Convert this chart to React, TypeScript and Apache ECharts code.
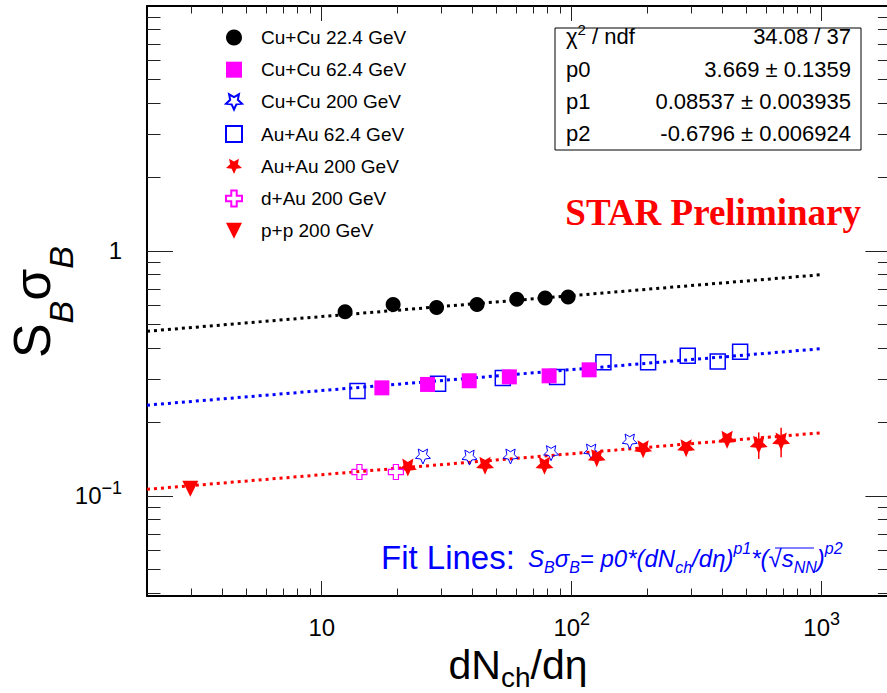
import { useEffect, useRef } from 'react';
import * as echarts from 'echarts';

// ---------------- data ----------------
const cuCu22X = [12.4, 19.3, 28.8, 41.8, 60.3, 78.3, 96.7];
const cuCu22Y = [0.565, 0.604, 0.587, 0.604, 0.635, 0.643, 0.649];

const cuCu62X = [17.4, 26.5, 38.9, 56.3, 81.2, 117.4];
const cuCu62Y = [0.276, 0.285, 0.295, 0.306, 0.309, 0.327];

const cuCu200X = [25.4, 39.0, 56.9, 82.7, 119.6, 170.6];
const cuCu200Y = [0.1447, 0.1433, 0.1447, 0.1494, 0.1516, 0.1666];

const auAu62X = [13.9, 29.2, 53.0, 87.4, 133.9, 202.1, 291.1, 383.7, 471.6];
const auAu62Y = [0.268, 0.287, 0.303, 0.306, 0.351, 0.351, 0.373, 0.354, 0.388];

const auAu200X = [22.1, 45.0, 77.8, 125.9, 193.0, 286.8, 418.4, 559.8, 688.0];
const auAu200Y = [0.1304, 0.1326, 0.1326, 0.1425, 0.155, 0.1565, 0.1693, 0.1615, 0.1666];
const auAu200Err = [0, 0, 0, 0, 0, 0, 0, 0.02, 0.023];

const dAu200X = [14.15, 19.8];
const dAu200Y = [0.1251, 0.1251];

const pp200X = [2.98];
const pp200Y = [0.1068];

const fitX = [2, 1000];
const fitCuCu22 = [0.47, 0.8];
const fitE62 = [0.2345, 0.399];
const fitE200 = [0.1063, 0.181];

const xMajorTicks = [10, 100, 1000];
const xMinorTicks = [3, 4, 5, 6, 7, 8, 9, 20, 30, 40, 50, 60, 70, 80, 90, 200, 300, 400, 500, 600, 700, 800, 900];
const yMajorTicks = [0.1, 1];
const yMinorTicks = [0.04, 0.05, 0.06, 0.07, 0.08, 0.09, 0.2, 0.3, 0.4, 0.5, 0.6, 0.7, 0.8, 0.9, 2, 3, 4, 5, 6, 7, 8, 9];

const legendNames = [
  'Cu+Cu 22.4 GeV',
  'Cu+Cu 62.4 GeV',
  'Cu+Cu 200 GeV',
  'Au+Au 62.4 GeV',
  'Au+Au 200 GeV',
  'd+Au 200 GeV',
  'p+p 200 GeV',
];

const statsValues = ['34.08 / 37', '3.669 ± 0.1359', '0.08537 ± 0.003935', '-0.6796 ± 0.006924'];
const statsParams = ['p0', 'p1', 'p2'];

// ---------------- styling ----------------
const X_MIN = 2, X_MAX = 1900, Y_MIN = 0.039, Y_MAX = 10;
const FONT = 'Liberation Sans, Arial, Helvetica, sans-serif';
const BLUE = '#0000ff';
const RED = '#ff0000';
const MAGENTA = '#ff00ff';

const STAR = 'path://M50,100L35.89,69.42L2.45,65.45L27.18,42.58L20.6,9.55L50,26L79.4,9.55L72.82,42.58L97.55,65.45L64.11,69.42Z';
const CROSS = 'path://M33,0H67V33H100V67H67V100H33V67H0V33H33Z';
const TRI_DOWN = 'path://M0,0L100,0L50,100Z';

const L = (v: number) => Math.log10(v);
const pairs = (xs: number[], ys: number[]) => xs.map((x, i) => [x, ys[i]]);

const axisRich = {
  b: { fontSize: 24, color: '#000', lineHeight: 24, fontFamily: FONT },
  s: { fontSize: 18, color: '#000', lineHeight: 24, padding: [0, 0, 16, 0], fontFamily: FONT },
};

const expText = (e: number) => (e < 0 ? '\u2212' + Math.abs(e) : String(e));

function decoX(position: 'top' | 'bottom', ticks: number[], len: number, line: boolean, labels: boolean) {
  return {
    type: 'value',
    min: L(X_MIN),
    max: L(X_MAX),
    position,
    axisLine: { show: line, onZero: false, lineStyle: { color: '#000', width: 2 } },
    axisTick: { show: true, inside: true, length: len, customValues: ticks.map(L), lineStyle: { color: '#222', width: 1 } },
    axisLabel: labels
      ? {
          show: true,
          customValues: xMajorTicks.map(L),
          margin: 19,
          lineHeight: 24,
          rich: axisRich,
          formatter: (v: number) => {
            const e = Math.round(v);
            return e === 1 ? '{b|10}' : `{b|10}{s|${expText(e)}}`;
          },
        }
      : { show: false },
    splitLine: { show: false },
  };
}

function decoY(position: 'left' | 'right', ticks: number[], len: number, line: boolean, labels: boolean) {
  return {
    type: 'value',
    min: L(Y_MIN),
    max: L(Y_MAX),
    position,
    axisLine: { show: line, onZero: false, lineStyle: { color: '#000', width: 2 } },
    axisTick: { show: true, inside: true, length: len, customValues: ticks.map(L), lineStyle: { color: '#222', width: 1 } },
    axisLabel: labels
      ? {
          show: true,
          customValues: yMajorTicks.map(L),
          margin: 25,
          lineHeight: 24,
          rich: axisRich,
          formatter: (v: number) => {
            const e = Math.round(v);
            return e === 0 ? '{b|1}' : `{b|10}{s|${expText(e)}}`;
          },
        }
      : { show: false },
    splitLine: { show: false },
  };
}

function fitLine(name: string, ys: number[], color: string) {
  return {
    type: 'line',
    name,
    data: pairs(fitX, ys),
    symbol: 'none',
    silent: true,
    z: 1,
    lineStyle: { color, width: 3, type: [3, 4], cap: 'butt' },
  };
}

function scatter(name: string, xs: number[], ys: number[], symbol: string, size: number, itemStyle: any, z = 3) {
  return { type: 'scatter', name, data: pairs(xs, ys), symbol, symbolSize: size, itemStyle: { opacity: 1, ...itemStyle }, z };
}

const gTextRich = (size: number) => ({
  n: { fontSize: size, fill: '#000', lineHeight: 30, fontFamily: FONT },
  s: { fontSize: 15, fill: '#000', lineHeight: 30, padding: [0, 0, 14, 0], fontFamily: FONT },
});

const STATS_ROWS = [36, 69, 101, 133];

const option: any = {
  animation: false,
  backgroundColor: '#fff',
  textStyle: { fontFamily: FONT },
  grid: { left: 147, top: 6, width: 744.4, height: 590, containLabel: false },
  xAxis: [
    { type: 'log', logBase: 10, min: X_MIN, max: X_MAX, show: false },
    decoX('bottom', xMajorTicks, 15, true, true),
    decoX('bottom', xMinorTicks, 7.5, false, false),
    decoX('top', xMajorTicks, 15, true, false),
    decoX('top', xMinorTicks, 7.5, false, false),
  ],
  yAxis: [
    { type: 'log', logBase: 10, min: Y_MIN, max: Y_MAX, show: false },
    decoY('left', yMajorTicks, 26, true, true),
    decoY('left', yMinorTicks, 13.5, false, false),
    decoY('right', yMajorTicks, 26, true, false),
    decoY('right', yMinorTicks, 13.5, false, false),
  ],
  legend: {
    orient: 'vertical',
    left: 220,
    top: 23,
    itemWidth: 16,
    itemHeight: 16,
    itemGap: 13.2,
    selectedMode: false,
    textStyle: { fontSize: 19, color: '#000', fontFamily: FONT, padding: [0, 0, 0, 14] },
    data: [
      { name: legendNames[0], icon: 'circle' },
      { name: legendNames[1], icon: 'rect' },
      { name: legendNames[2], icon: STAR },
      { name: legendNames[3], icon: 'rect' },
      { name: legendNames[4], icon: STAR },
      { name: legendNames[5], icon: CROSS },
      { name: legendNames[6], icon: TRI_DOWN },
    ],
  },
  series: [
    fitLine('fit 22.4', fitCuCu22, '#000'),
    fitLine('fit 62.4', fitE62, BLUE),
    fitLine('fit 200', fitE200, RED),
    {
      type: 'custom',
      name: 'Au+Au 200 errors',
      silent: true,
      z: 2,
      data: auAu200X
        .map((x, i) => [x, auAu200Y[i] - auAu200Err[i], auAu200Y[i] + auAu200Err[i], auAu200Err[i]])
        .filter((d) => d[3] > 0),
      encode: { x: 0, y: [1, 2] },
      renderItem: (_p: any, api: any) => {
        const a = api.coord([api.value(0), api.value(1)]);
        const b = api.coord([api.value(0), api.value(2)]);
        return {
          type: 'line',
          shape: { x1: a[0], y1: a[1], x2: b[0], y2: b[1] },
          style: { stroke: RED, lineWidth: 1.5 },
        };
      },
    },
    scatter(legendNames[3], auAu62X, auAu62Y, 'rect', 15, { color: 'transparent', borderColor: BLUE, borderWidth: 1.5 }),
    scatter(legendNames[0], cuCu22X, cuCu22Y, 'circle', 15, { color: '#000' }),
    scatter(legendNames[1], cuCu62X, cuCu62Y, 'rect', 15, { color: MAGENTA }),
    scatter(legendNames[2], cuCu200X, cuCu200Y, STAR, 15, { color: 'transparent', borderColor: BLUE, borderWidth: 1 }),
    scatter(legendNames[4], auAu200X, auAu200Y, STAR, 18, { color: RED }),
    scatter(legendNames[5], dAu200X, dAu200Y, CROSS, 15, { color: 'transparent', borderColor: MAGENTA, borderWidth: 1.2 }),
    scatter(legendNames[6], pp200X, pp200Y, TRI_DOWN, 16, { color: RED }),
  ],
  graphic: [
    {
      type: 'rect',
      shape: { x: 555, y: 28, width: 306, height: 122 },
      style: { fill: '#fff', stroke: '#000', lineWidth: 1 },
      z: 100,
    },
    {
      type: 'text',
      x: 566,
      y: STATS_ROWS[0],
      z: 101,
      style: { text: '{n|χ}{s|2}{n| / ndf}', rich: gTextRich(22), verticalAlign: 'middle', align: 'left' },
    },
    ...statsParams.map((p, i) => ({
      type: 'text',
      x: 566,
      y: STATS_ROWS[i + 1],
      z: 101,
      style: { text: p, fontSize: 22, fontFamily: FONT, fill: '#000', verticalAlign: 'middle', align: 'left' },
    })),
    ...statsValues.map((v, i) => ({
      type: 'text',
      x: 851,
      y: STATS_ROWS[i],
      z: 101,
      style: { text: v, fontSize: 22, fontFamily: FONT, fill: '#000', verticalAlign: 'middle', align: 'right' },
    })),
    {
      type: 'text',
      x: 861,
      y: 212,
      z: 101,
      style: {
        text: 'STAR Preliminary',
        fontSize: 37,
        fontWeight: 'bold',
        fontFamily: 'Liberation Serif, Times New Roman, serif',
        fill: RED,
        align: 'right',
        verticalAlign: 'middle',
      },
    },
    {
      type: 'text',
      x: 381,
      y: 557,
      z: 101,
      style: { text: 'Fit Lines:', fontSize: 33, fontFamily: FONT, fill: BLUE, align: 'left', verticalAlign: 'middle' },
    },
    {
      type: 'text',
      x: 528,
      y: 558,
      z: 101,
      style: {
        text:
          '{m|S}{sub|B}{m|σ}{sub|B}{m|= p0*(dN}{sub|ch}{m|/dη)}{sup|p1}{m|*(√}{m|s}{sub|NN}{m|)}{sup|p2}',
        align: 'left',
        verticalAlign: 'middle',
        rich: {
          m: { fontSize: 24, fontStyle: 'italic', fill: BLUE, lineHeight: 40, fontFamily: FONT },
          sub: { fontSize: 16, fontStyle: 'italic', fill: BLUE, lineHeight: 40, padding: [18, 0, 0, 0], fontFamily: FONT },
          sup: { fontSize: 16, fontStyle: 'italic', fill: BLUE, lineHeight: 40, padding: [0, 0, 20, 0], fontFamily: FONT },
        },
      },
    },
    {
      type: 'line',
      z: 101,
      shape: { x1: 775, y1: 548, x2: 814, y2: 548 },
      style: { stroke: BLUE, lineWidth: 1.2 },
    },
    {
      type: 'text',
      x: 32,
      y: 302,
      rotation: Math.PI / 2,
      z: 101,
      style: {
        text: '{m|S}{sub|B}{m|σ}{sub|B}',
        align: 'center',
        verticalAlign: 'middle',
        rich: {
          m: { fontSize: 52, fill: '#000', lineHeight: 60, fontFamily: FONT },
          sub: { fontSize: 34, fontStyle: 'italic', fill: '#000', lineHeight: 60, padding: [58, 0, 0, 0], fontFamily: FONT },
        },
      },
    },
    {
      type: 'text',
      x: 518,
      y: 665,
      z: 101,
      style: {
        text: '{m|dN}{sub|ch}{m|/dη}',
        align: 'center',
        verticalAlign: 'middle',
        rich: {
          m: { fontSize: 41, fill: '#000', lineHeight: 30, fontFamily: FONT },
          sub: { fontSize: 28, fill: '#000', lineHeight: 30, padding: [24, 0, 0, 0], fontFamily: FONT },
        },
      },
    },
  ],
};

export default function App() {
  const ref = useRef<HTMLDivElement>(null);
  useEffect(() => {
    if (!ref.current) return;
    const chart = echarts.init(ref.current, undefined, { renderer: 'svg' });
    chart.setOption(option);
    return () => chart.dispose();
  }, []);
  return (
    <div
      style={{
        position: 'fixed',
        left: 0,
        top: 0,
        width: 887,
        height: 693,
        overflow: 'hidden',
        background: '#fff',
      }}
    >
      <div ref={ref} style={{ width: 900, height: 693 }} />
    </div>
  );
}
